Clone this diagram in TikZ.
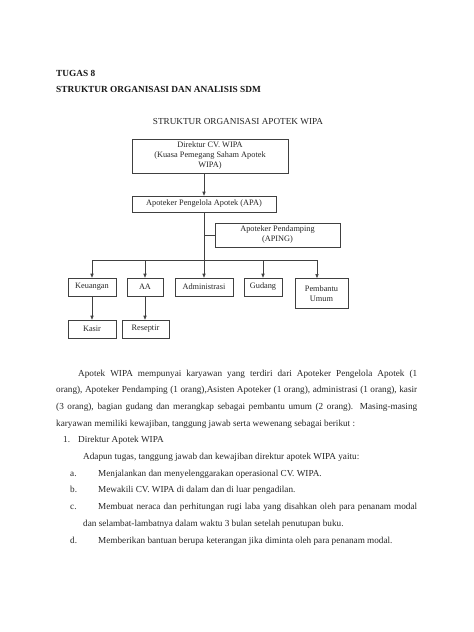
\documentclass[tikz,border=0pt]{standalone}
\usepackage{fontspec}
\setmainfont{Liberation Serif}
\usetikzlibrary{arrows.meta}
\begin{document}
\begin{tikzpicture}[x=1pt,y=-1pt,
  box/.style={draw=black!75, line width=0.6pt, inner sep=0pt, align=center, text=black!85, font=\fontsize{8.3}{10}\selectfont},
  conn/.style={draw=black!75, line width=0.6pt},
  arr/.style={conn, -{Triangle[length=4pt,width=3.2pt]}},
  body/.style={anchor=base west, inner sep=0pt, text=black!85, font=\fontsize{9.2}{11}\selectfont},
  head/.style={anchor=base west, inner sep=0pt, text=black!90, font=\fontsize{9.3}{11}\selectfont\bfseries}]
\useasboundingbox[fill=white] (0,0) rectangle (474,632);
% headings
\node[head] (h1) at (56,76) {TUGAS 8};
\node[head] (h2) at (56,92) {STRUKTUR ORGANISASI DAN ANALISIS SDM};
\node[anchor=base, inner sep=0pt, text=black!85, font=\fontsize{9.2}{11}\selectfont] (title) at (238,124) {STRUKTUR ORGANISASI APOTEK WIPA};
% chart
\node[box, minimum width=156pt, minimum height=34pt] (dir) at (210,156) {Direktur CV. WIPA\\(Kuasa Pemegang Saham Apotek\\WIPA)};
\node[box, minimum width=144pt, minimum height=16pt] (apa) at (204,204) {Apoteker Pengelola Apotek (APA)};
\node[box, minimum width=125pt, minimum height=24pt] (aping) at (277.5,235) {Apoteker Pendamping\\(APING)};
\node[box, minimum width=48pt, minimum height=18pt] (keu) at (92,287) {Keuangan};
\node[box, minimum width=36pt, minimum height=18pt] (aa) at (145,287) {AA};
\node[box, minimum width=58pt, minimum height=18pt] (adm) at (204,287) {Administrasi};
\node[box, minimum width=38pt, minimum height=18pt] (gud) at (263,287) {Gudang};
\node[box, minimum width=53pt, minimum height=30pt, anchor=north] (pu) at (321.5,278) {Pembantu\\Umum};
\node[box, minimum width=48pt, minimum height=18pt] (kas) at (92,329) {Kasir};
\node[box, minimum width=47pt, minimum height=18pt] (res) at (145.5,329) {Reseptir};
\coordinate (bus) at (204,260);
\coordinate (pux) at ([xshift=-4.5pt]pu.north);
\draw[arr] (apa.north |- dir.south) -- (apa.north);
\draw[arr] (apa.south) -- (adm.north);
\draw[conn] (apa.south |- aping.west) -- (aping.west);
\draw[conn] (keu.north |- bus) -- (pux |- bus);
\draw[arr] (keu.north |- bus) -- (keu.north);
\draw[arr] (aa.north |- bus) -- (aa.north);
\draw[arr] (gud.north |- bus) -- (gud.north);
\draw[arr] (pux |- bus) -- (pux);
\draw[arr] (keu.south) -- (kas.north);
\draw[arr] (aa.south) -- (aa.south |- res.north);
% body text
\node[body] (l1) at (78,376) {\makebox[339pt][s]{Apotek WIPA mempunyai karyawan yang terdiri dari Apoteker Pengelola Apotek (1}};
\node[body] (l2) at (56,392.7) {\makebox[361pt][s]{orang), Apoteker Pendamping (1 orang),Asisten Apoteker (1 orang), administrasi (1 orang), kasir}};
\node[body] (l3) at (56,409.4) {\makebox[361pt][s]{(3 orang), bagian gudang dan merangkap sebagai pembantu umum (2 orang). Masing-masing}};
\node[body] (l4) at (56,426.1) {karyawan memiliki kewajiban, tanggung jawab serta wewenang sebagai berikut :};
\node[body] (n1) at (63,442.8) {1.};
\node[body] (l5) at (78,442.8) {Direktur Apotek WIPA};
\node[body] (l6) at (83,459.5) {Adapun tugas, tanggung jawab dan kewajiban direktur apotek WIPA yaitu:};
\node[body] (na) at (70,476.2) {a.};
\node[body] (l7) at (98,476.2) {Menjalankan dan menyelenggarakan operasional CV. WIPA.};
\node[body] (nb) at (70,492.9) {b.};
\node[body] (l8) at (98,492.9) {Mewakili CV. WIPA di dalam dan di luar pengadilan.};
\node[body] (nc) at (70,509.6) {c.};
\node[body] (l9) at (98,509.6) {\makebox[319pt][s]{Membuat neraca dan perhitungan rugi laba yang disahkan oleh para penanam modal}};
\node[body] (l10) at (83,526.3) {dan selambat-lambatnya dalam waktu 3 bulan setelah penutupan buku.};
\node[body] (nd) at (70,543) {d.};
\node[body] (l11) at (98,543) {Memberikan bantuan berupa keterangan jika diminta oleh para penanam modal.};
\end{tikzpicture}
\end{document}
